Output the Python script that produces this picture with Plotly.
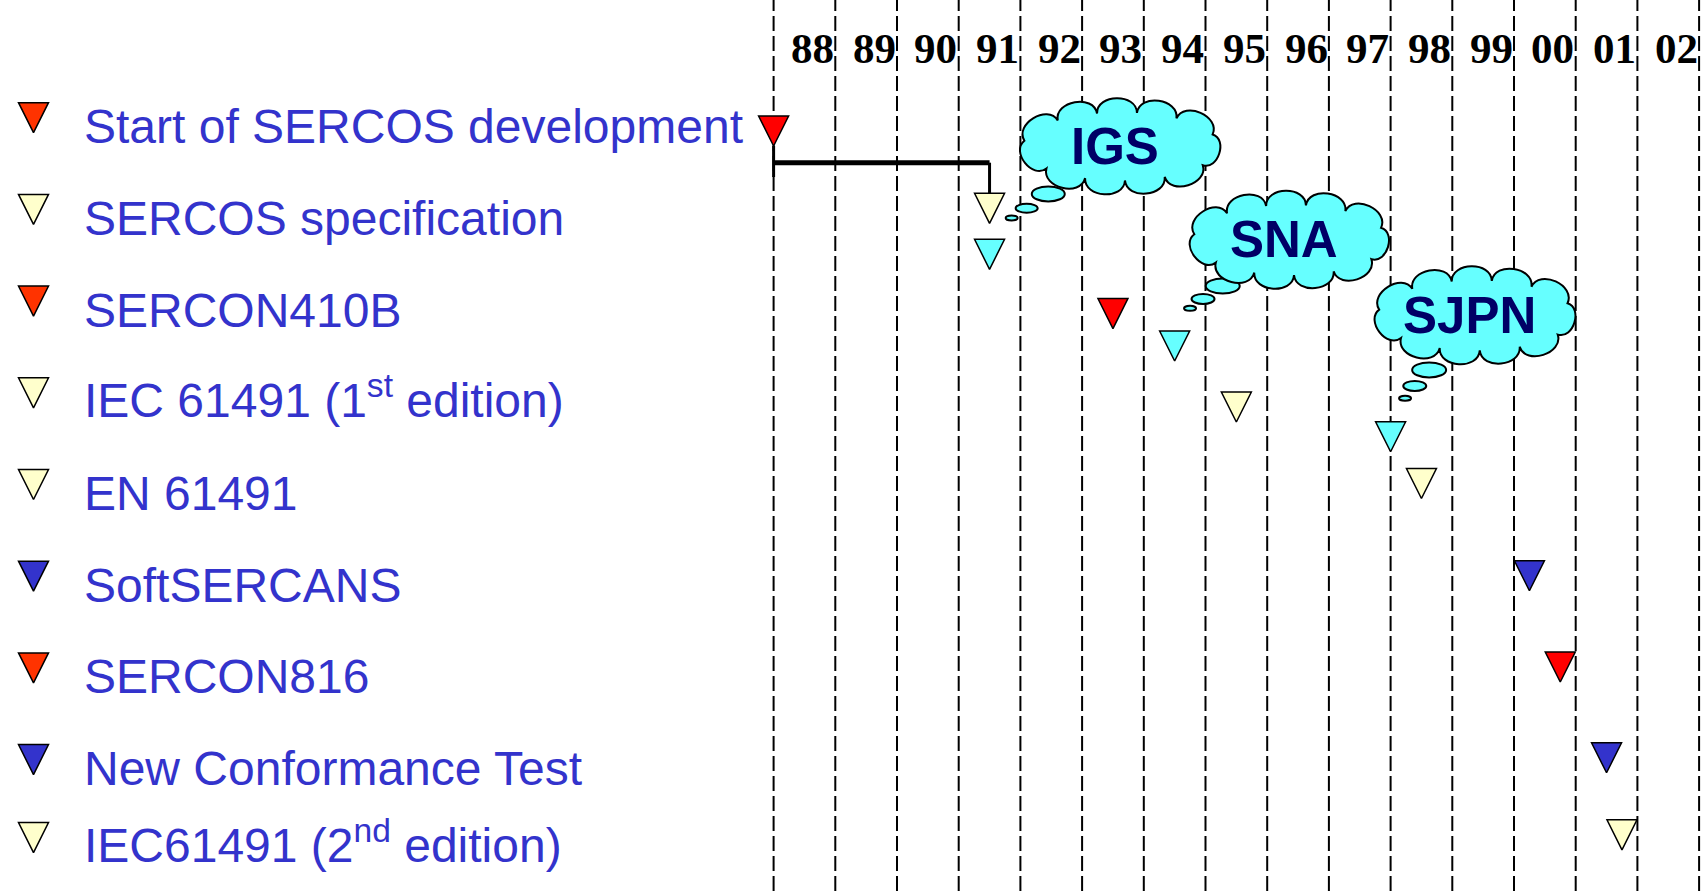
import numpy as np
import plotly.graph_objects as go

# ---------------- data ----------------
year_labels = ["88", "89", "90", "91", "92", "93", "94", "95", "96", "97", "98", "99", "00", "01", "02"]
year_starts = list(range(1988, 2003))
grid_years = list(range(1988, 2004))

milestones = [
    "Start of SERCOS development",
    "SERCOS specification",
    "SERCON410B",
    "IEC 61491 (1<sup>st</sup> edition)",
    "EN 61491",
    "SoftSERCANS",
    "SERCON816",
    "New Conformance Test",
    "IEC61491 (2<sup>nd</sup> edition)",
]
milestone_rows = [0, 1, 2, 3, 4, 5, 6, 7, 7.85]
milestone_colors = ["#FF3300", "#FFFFCC", "#FF3300", "#FFFFCC", "#FFFFCC",
                    "#3333CC", "#FF3300", "#3333CC", "#FFFFCC"]

# events on the time line (x = year, y = row of the triangle tip)
event_years = [1988.0, 1991.5, 1991.5, 1993.5, 1994.5, 1995.5, 1998.0, 1998.5,
               2000.25, 2000.75, 2001.5, 2001.75]
event_rows = [0.145, 0.988, 1.49, 2.136, 2.49, 3.155, 3.479, 3.989,
              4.995, 5.99, 6.98, 7.82]
event_colors = ["#FF0000", "#FFFFCC", "#66FFFF", "#FF0000", "#66FFFF", "#FFFFCC",
                "#66FFFF", "#FFFFCC", "#3333CC", "#FF0000", "#3333CC", "#FFFFCC"]

# bracket from start of development to the specification
bracket_years = [1988.0, 1991.5]
bracket_bar_row = 0.327
bracket_tail_row = 0.483

# organisation clouds
cloud_labels = ["IGS", "SNA", "SJPN"]
cloud_years = [1993.63, 1996.37, 1999.38]
cloud_rows = [0.15, 1.17, 1.993]

# ---------------- geometry ----------------
W, H = 1706, 891
PX_YEAR = 61.7
PX_ROW = 91.7
X0_PX = 773.6   # pixel of year 1988
Y0_PX = 132.7   # pixel of row 0
x_left = 1988 - X0_PX / PX_YEAR
x_right = x_left + W / PX_YEAR
y_top = -Y0_PX / PX_ROW
y_bottom = y_top + H / PX_ROW

TRI = 30
TEXT_BLUE = "#3333CC"

fig = go.Figure()

# legend triangles (left)
fig.add_trace(go.Scatter(
    x=[1988 - (X0_PX - 33.5) / PX_YEAR] * len(milestone_rows),
    y=milestone_rows,
    mode="markers",
    marker=dict(symbol="arrow-down", size=TRI, color=milestone_colors,
                line=dict(color="black", width=1.5)),
    hoverinfo="skip", showlegend=False,
))

# bracket
b_left, b_right = bracket_years
spec_top = event_rows[1] - TRI / PX_ROW
fig.add_trace(go.Scatter(
    x=[b_left, b_left], y=[event_rows[0], bracket_tail_row],
    mode="lines", line=dict(color="black", width=3),
    hoverinfo="skip", showlegend=False,
))
fig.add_trace(go.Scatter(
    x=[b_left, b_right], y=[bracket_bar_row, bracket_bar_row],
    mode="lines", line=dict(color="black", width=5),
    hoverinfo="skip", showlegend=False,
))
fig.add_trace(go.Scatter(
    x=[b_right, b_right], y=[bracket_bar_row, spec_top],
    mode="lines", line=dict(color="black", width=3),
    hoverinfo="skip", showlegend=False,
))

# event triangles
fig.add_trace(go.Scatter(
    x=event_years, y=event_rows,
    mode="markers",
    marker=dict(symbol="arrow-down", size=TRI, color=event_colors,
                line=dict(color="black", width=1.5)),
    hoverinfo="skip", showlegend=False,
))

shapes = []
# dashed year grid
for gy in grid_years:
    shapes.append(dict(type="line", xref="x", yref="paper", x0=gy, x1=gy, y0=0, y1=1,
                       line=dict(color="black", width=2, dash="15px,5px"), layer="below"))


def cloud_path(w, h, n=11, k=0.5, phase=0.35):
    a, b = w / 2 * 0.85, h / 2 * 0.7
    t = np.linspace(0, 2 * np.pi, 4001)
    for _ in range(30):
        xs, ys = a * np.cos(t), b * np.sin(t)
        seg = np.hypot(np.diff(xs), np.diff(ys))
        per = seg.sum()
        bulge = 0.75 * k * per / n
        a, b = w / 2 - bulge, h / 2 - bulge
    xs, ys = a * np.cos(t), b * np.sin(t)
    seg = np.hypot(np.diff(xs), np.diff(ys))
    cum = np.concatenate([[0], np.cumsum(seg)])
    per = cum[-1]
    targ = ((np.arange(n) + phase) / n) * per
    px = np.interp(targ, cum, xs)
    py = np.interp(targ, cum, ys)
    d = "M%.2f,%.2f" % (px[0], py[0])
    for i in range(n):
        j = (i + 1) % n
        dx, dy = px[j] - px[i], py[j] - py[i]
        L = np.hypot(dx, dy)
        nx, ny = dy / L, -dx / L
        c1 = (px[i] + nx * k * L, py[i] + ny * k * L)
        c2 = (px[j] + nx * k * L, py[j] + ny * k * L)
        d += " C%.2f,%.2f %.2f,%.2f %.2f,%.2f" % (c1[0], c1[1], c2[0], c2[1], px[j], py[j])
    return d + " Z"


cloud_sizes = [(226, 98), (224, 100), (226, 100)]
bubble_offsets = [
    [(-72.7, -47.5, 33, 15), (-94.3, -61.8, 22, 9), (-109.3, -71.5, 12, 5)],
    [(-67.3, -46.0, 34, 15), (-87.0, -59.0, 23, 10), (-100.0, -68.3, 12, 5)],
    [(-46.6, -54.5, 34, 15), (-61.0, -70.5, 23, 10), (-70.7, -82.8, 12, 5)],
]
CYAN = "#66FFFF"
for cx, cy, (cw, ch), bubs in zip(cloud_years, cloud_rows, cloud_sizes, bubble_offsets):
    for (bx, by, bw, bh) in bubs:
        shapes.append(dict(type="circle", xref="x", yref="y",
                           xsizemode="pixel", ysizemode="pixel", xanchor=cx, yanchor=cy,
                           x0=bx - bw / 2, x1=bx + bw / 2, y0=by - bh / 2, y1=by + bh / 2,
                           fillcolor=CYAN, line=dict(color="black", width=2), layer="above"))
    shapes.append(dict(type="path", xref="x", yref="y",
                       xsizemode="pixel", ysizemode="pixel", xanchor=cx, yanchor=cy,
                       path=cloud_path(cw, ch),
                       fillcolor=CYAN, line=dict(color="black", width=2), layer="above"))

annotations = []
# year labels
for ys, lab in zip(year_starts, year_labels):
    annotations.append(dict(x=ys + 0.5, y=(48 - Y0_PX) / PX_ROW, xref="x", yref="y",
                            text="<b>%s</b>" % lab, showarrow=False, xshift=8,
                            xanchor="center", yanchor="middle",
                            font=dict(family="Liberation Serif, Times New Roman, serif",
                                      size=43, color="black")))
# milestone labels
label_x = 1988 - (X0_PX - 82) / PX_YEAR
for row, txt in zip(milestone_rows, milestones):
    shift = 0.055 if "<sup>" in txt else 0.0
    annotations.append(dict(x=label_x, y=row - 0.065 - shift, xref="x", yref="y",
                            text=txt, showarrow=False, xanchor="left", yanchor="middle",
                            font=dict(family="Liberation Sans, Arial, sans-serif",
                                      size=48, color=TEXT_BLUE)))
# cloud labels
for cx, cy, lab in zip(cloud_years, cloud_rows, cloud_labels):
    annotations.append(dict(x=cx, y=cy, xref="x", yref="y", text="<b>%s</b>" % lab,
                            showarrow=False, xshift=-6, xanchor="center", yanchor="middle",
                            font=dict(family="Liberation Sans, Arial, sans-serif",
                                      size=51, color="#000066")))

fig.update_layout(
    width=W, height=H,
    margin=dict(l=0, r=0, t=0, b=0),
    paper_bgcolor="white", plot_bgcolor="white",
    xaxis=dict(range=[x_left, x_right], visible=False, fixedrange=True),
    yaxis=dict(range=[y_bottom, y_top], visible=False, fixedrange=True),
    shapes=shapes, annotations=annotations,
    showlegend=False,
)

fig.write_html("out.html", config={"displayModeBar": False},
               post_script="document.body.style.margin='0';document.body.style.overflow='hidden';")
